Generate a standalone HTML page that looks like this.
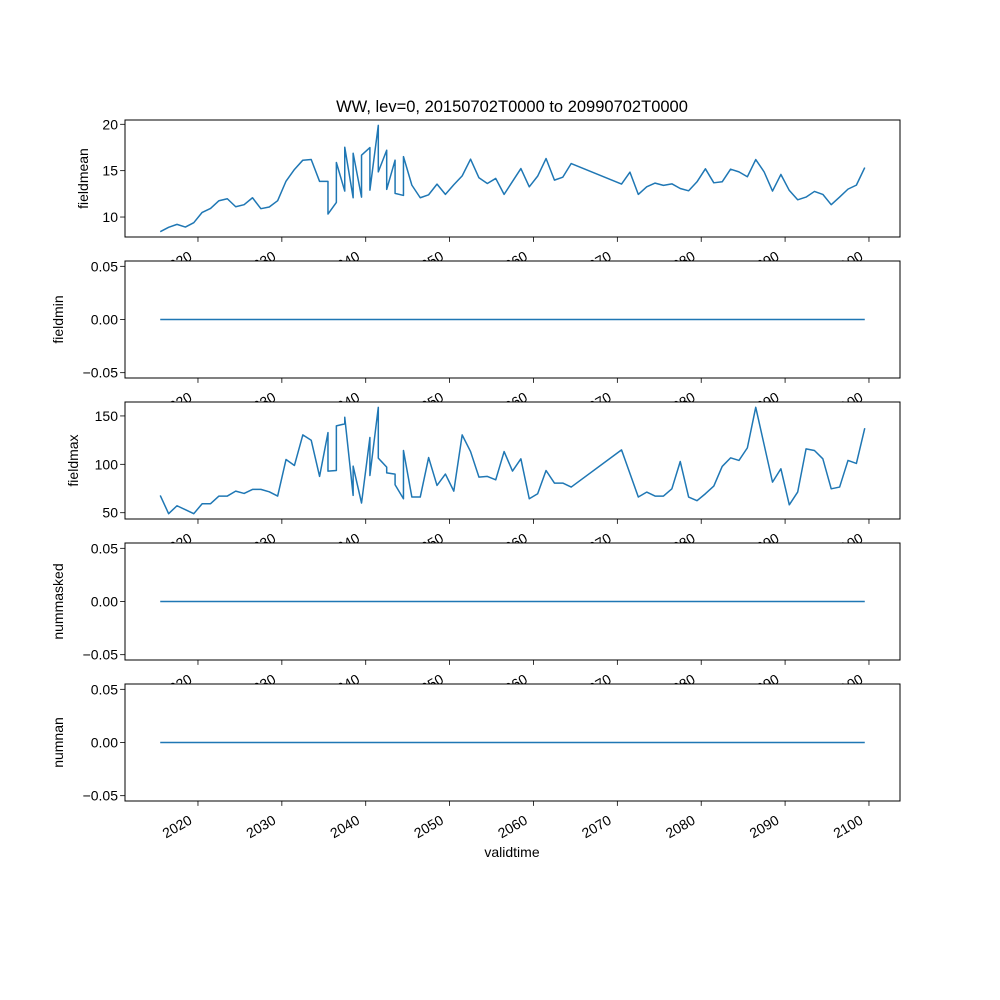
<!DOCTYPE html>
<html><head><meta charset="utf-8"><style>
html,body{margin:0;padding:0;background:#fff;}
svg{display:block;font-family:"Liberation Sans","DejaVu Sans",sans-serif;}
</style></head><body>
<svg id="fig" width="1000" height="1000" xmlns="http://www.w3.org/2000/svg">
<rect x="0" y="0" width="1000" height="1000" fill="#fff"/>
<text x="512" y="112" font-size="16.5" text-anchor="middle">WW, lev=0, 20150702T0000 to 20990702T0000</text>
<text x="512" y="857" font-size="14" text-anchor="middle">validtime</text>
</svg>
<script>
// ---- data ----
const meanYears = [2015.5,2016.5,2017.5,2018.5,2019.5,2020.5,2021.5,2022.5,2023.5,2024.5,2025.5,2026.5,2027.5,2028.5,2029.5,2030.5,2031.5,2032.5,2033.5,2034.5,
2035.5,2035.5,2036.5,2036.5,2037.5,2037.5,2038.5,2038.5,2039.5,2039.5,2040.5,2040.5,2041.5,2041.5,2042.5,2042.5,2043.5,2043.5,2044.5,2044.5,
2045.5,2046.5,2047.5,2048.5,2049.5,2050.5,2051.5,2052.5,2053.5,2054.5,2055.5,2056.5,2057.5,2058.5,
2059.5,2060.5,2061.5,2062.5,2063.5,2064.5,2070.5,2071.5,2072.5,2073.5,2074.5,2075.5,2076.5,2077.5,2078.5,2079.5,2080.5,2081.5,2082.5,2083.5,2084.5,2085.5,2086.5,2087.5,2088.5,2089.5,2090.5,2091.5,2092.5,2093.5,2094.5,2095.5,2096.5,2097.5,2098.5,2099.5];
const meanValues = [8.42,8.89,9.21,8.92,9.39,10.50,10.93,11.76,11.97,11.11,11.33,12.08,10.90,11.08,11.76,13.87,15.13,16.13,16.20,13.84,
13.84,10.32,11.58,15.88,12.80,17.53,12.08,16.88,12.15,16.67,17.49,12.90,19.89,14.87,17.20,12.98,16.13,12.55,12.33,16.52,
13.44,12.08,12.40,13.55,12.44,13.48,14.44,16.24,14.23,13.62,14.16,12.44,13.84,15.23,
13.26,14.41,16.31,13.98,14.30,15.77,13.55,14.84,12.44,13.26,13.66,13.41,13.58,13.08,12.83,13.80,15.20,13.69,13.80,15.16,14.87,14.34,16.20,14.87,12.80,14.59,12.87,11.86,12.15,12.76,12.44,11.33,12.15,13.01,13.44,15.34];
const maxYears = [2015.5,2016.5,2017.5,2018.5,2019.5,2020.5,2021.5,2022.5,2023.5,2024.5,2025.5,2026.5,2027.5,2028.5,2029.5,2030.5,2031.5,2032.5,2033.5,2034.5,
2035.5,2035.5,2036.5,2036.5,2037.5,2037.5,2038.5,2038.5,2039.5,2040.5,2040.5,2041.5,2041.5,2042.5,2042.5,2043.5,2043.5,2044.5,2044.5,
2045.5,2046.5,2047.5,2048.5,2049.5,2050.5,2051.5,2052.5,2053.5,2054.5,2055.5,2056.5,2057.5,2058.5,
2059.5,2060.5,2061.5,2062.5,2063.5,2064.5,2070.5,2072.5,2073.5,2074.5,2075.5,2076.5,2077.5,2078.5,2079.5,2080.5,2081.5,2082.5,2083.5,2084.5,2085.5,2086.5,2088.5,2089.5,2090.5,2091.5,2092.5,2093.5,2094.5,2095.5,2096.5,2097.5,2098.5,2099.5];
const maxValues = [67.9,49,57.2,53.1,49,59.3,59.3,67.2,67.2,72.3,69.9,74.1,74.1,71.6,67.2,105,98.8,130.4,124.9,87.5,
132.8,93,93.6,139.7,141.8,148.6,67.9,98.1,60,127.7,88.5,158.9,106.4,97.1,91.2,89.9,78.9,64.4,114.3,
66.2,66.2,107,78.2,89.9,72.3,130.4,113.2,86.8,87.5,84,113.2,93,105.7,
64.4,69.6,93.6,80.6,80.6,76.5,114.9,66.2,71.3,67.2,67.2,74.7,102.9,66.2,62.4,69.6,77.5,97.8,106.7,104,117,158.9,81.6,95.4,58.2,71.3,116,114.3,105.7,74.7,76.5,104,100.9,137.3];
const zeroYears = [2015.5, 2099.5];
const zeroValues = [0, 0];
const xTicks = [2020,2030,2040,2050,2060,2070,2080,2090,2100];
const meanTicks = [10,15,20];
const maxTicks = [50,100,150];
const zeroTicks = [-0.05,0.00,0.05];
const zeroTickLabels = ["\u22120.05","0.00","0.05"];

// ---- layout ----
const NS = "http://www.w3.org/2000/svg";
const svg = document.getElementById('fig');
const L = 125, R = 900, H = 117;
const tops = [120, 261, 402, 543, 684];
const xMin = 2015.5 - 4.2, xMax = 2099.5 + 4.2;
function xs(v){ return L + (v - xMin) / (xMax - xMin) * (R - L); }
function mk(tag, attrs, parent){ const e = document.createElementNS(NS, tag); for (const k in attrs) e.setAttribute(k, attrs[k]); (parent||svg).appendChild(e); return e; }

const panels = [
  {name:'fieldmean', years:meanYears, vals:meanValues, ticks:meanTicks, labels:meanTicks.map(String), ylx:83},
  {name:'fieldmin', years:zeroYears, vals:zeroValues, ticks:zeroTicks, labels:zeroTickLabels, ylx:58, lo:-0.055, hi:0.055},
  {name:'fieldmax', years:maxYears, vals:maxValues, ticks:maxTicks, labels:maxTicks.map(String), ylx:73},
  {name:'nummasked', years:zeroYears, vals:zeroValues, ticks:zeroTicks, labels:zeroTickLabels, ylx:58, lo:-0.055, hi:0.055},
  {name:'numnan', years:zeroYears, vals:zeroValues, ticks:zeroTicks, labels:zeroTickLabels, ylx:58, lo:-0.055, hi:0.055}
];

panels.forEach((p, i) => {
  const top = tops[i], bot = top + H;
  let lo = p.lo, hi = p.hi;
  if (lo === undefined) { const mn = Math.min(...p.vals), mx = Math.max(...p.vals); const m = (mx - mn) * 0.05; lo = mn - m; hi = mx + m; }
  const ys = v => bot - (v - lo) / (hi - lo) * H;
  const g = mk('g', {});
  
  
  const bg = mk('rect', {x:L, y:top, width:R-L, height:H, fill:'#fff'}, g);
  
  
  // line
  const d = p.years.map((y, k) => (k ? 'L' : 'M') + xs(y).toFixed(2) + ' ' + ys(p.vals[k]).toFixed(2)).join(' ');
  const ln = mk('path', {d:d, fill:'none', stroke:'#1f77b4', 'stroke-width':1.5, 'stroke-linejoin':'round'}, g);
  
  
  const fr = mk('rect', {x:L, y:top, width:R-L, height:H, fill:'none', stroke:'#000', 'stroke-width':1}, g);
  
  
  // y ticks
  p.ticks.forEach((t, k) => {
    const y = ys(t);
    mk('line', {x1:L-4.9, x2:L, y1:y, y2:y, stroke:'#000', 'stroke-width':0.8}, g);
    const tl = mk('text', {x:L-7, y:y+5, 'font-size':14, 'text-anchor':'end'}, g);
    
    
    tl.textContent = p.labels[k];
  });
  const yl = mk('text', {x:p.ylx, y:top + H/2, 'font-size':14, 'text-anchor':'middle', transform:'rotate(-90 ' + p.ylx + ' ' + (top + H/2) + ')'}, g);
  
  
  yl.setAttribute('dy', '5');
  yl.textContent = p.name;
  // x ticks
  xTicks.forEach(t => {
    const x = xs(t);
    mk('line', {x1:x, x2:x, y1:bot, y2:bot+4.9, stroke:'#000', 'stroke-width':0.8}, g);
    const bx = x - 5, by = bot + 22;
    const xl = mk('text', {x:bx, y:by, 'font-size':14, 'text-anchor':'end', transform:'rotate(-30 ' + bx + ' ' + by + ')'}, g);
    
    
    xl.textContent = String(t);
  });
});
</script>
</body></html>
